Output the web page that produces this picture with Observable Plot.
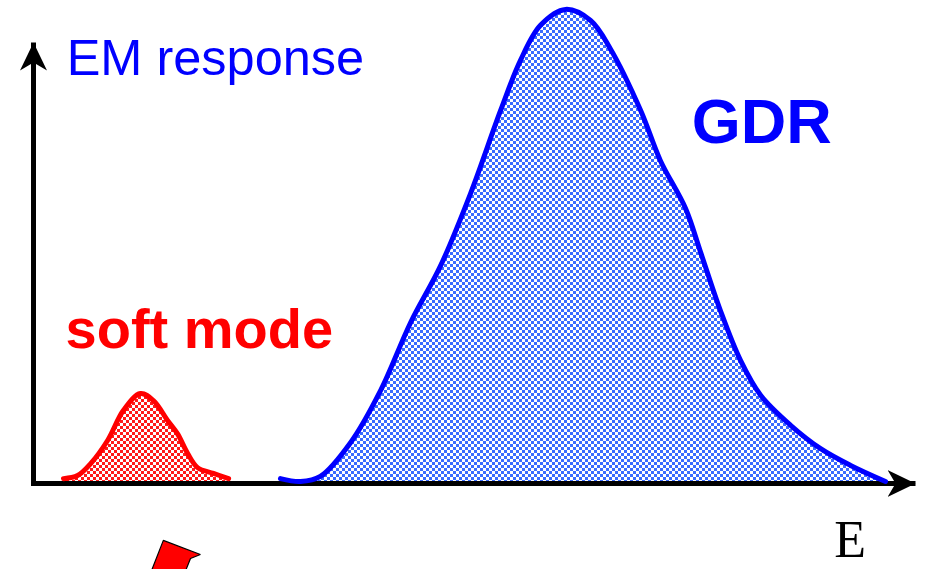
<!DOCTYPE html>
<html>
<head>
<meta charset="utf-8">
<script src="https://cdn.jsdelivr.net/npm/d3@7"></script>
<script src="https://cdn.jsdelivr.net/npm/@observablehq/plot@0.6"></script>
<style>
  html, body { margin: 0; padding: 0; background: #fff; overflow: hidden; }
</style>
</head>
<body>
<div id="chart"></div>
<script>
// Giant dipole resonance (GDR) curve: energy (arb. units) vs EM response
const gdrE = [7.00, 7.57, 8.13, 8.99, 9.84, 10.69, 11.54, 12.39, 13.24, 13.80, 14.37, 15.08, 15.79, 16.35, 17.21, 17.77, 18.48, 18.91, 19.47, 20.04, 20.61, 21.46, 22.31, 23.16, 24.15];
const gdrR = [1.1, 0.45, 1.6, 9.3, 21.1, 36.5, 49.4, 65.8, 84.6, 95.9, 103.9, 107.5, 105.0, 98.6, 84.6, 73.2, 62.4, 52.4, 39.2, 27.9, 20.0, 13.2, 7.9, 4.1, 0.45];
// Soft (pygmy) mode curve
const softE = [0.85, 1.25, 1.62, 2.10, 2.55, 3.03, 3.40, 3.80, 4.08, 4.37, 4.65, 5.10, 5.53];
const softR = [1.1, 1.8, 4.5, 9.75, 16.6, 20.4, 18.8, 14.3, 11.3, 6.8, 3.6, 2.3, 1.1];
// axes extent
const axisX = [-0.07, 25];
const axisY = [-0.57, 100];
// red pointer (partially off-canvas) outline
const pointerE = [3.68, 4.73, 4.45, 4.25, 3.26, 3.68];
const pointerR = [-12.9, -16.1, -17.0, -21.0, -21.5, -12.9];
// labels
const labels = [
  {text: "EM response", x: 0.94, y: 92.7, color: "#0000ff", size: 50.5, weight: "normal", font: "'Liberation Sans', Arial, sans-serif"},
  {text: "GDR", x: 18.66, y: 77.1, color: "#0000ff", size: 63, weight: "bold", font: "'Liberation Sans', Arial, sans-serif"},
  {text: "soft mode", x: 0.91, y: 30.8, color: "#ff0000", size: 56, weight: "bold", font: "'Liberation Sans', Arial, sans-serif"},
  {text: "E", x: 22.70, y: -16.7, color: "#000000", size: 52, weight: "normal", font: "'Liberation Serif', 'Times New Roman', serif"}
];

const gdr = gdrE.map((e, i) => ({e, r: gdrR[i]}));
const soft = softE.map((e, i) => ({e, r: softR[i]}));
const pointer = pointerE.map((e, i) => ({e, r: pointerR[i]}));
const axes = [
  {x1: axisX[0], y1: 0, x2: axisX[1], y2: 0},
  {x1: 0, y1: axisY[0], x2: 0, y2: axisY[1]}
];

const chart = Plot.plot({
  width: 927,
  height: 569,
  marginLeft: 33,
  marginRight: 12,
  marginTop: 42,
  marginBottom: 86,
  style: {background: "#fff", overflow: "hidden"},
  x: {domain: [0, 25], axis: null},
  y: {domain: [0, 100], axis: null},
  marks: [
    Plot.areaY(soft, {x: "e", y: "r", fill: "url(#chkRed)", curve: "catmull-rom"}),
    Plot.areaY(gdr, {x: "e", y: "r", fill: "url(#chkBlue)", curve: "catmull-rom"}),
    Plot.link(axes, {x1: "x1", y1: "y1", x2: "x2", y2: "y2", stroke: "#000", strokeWidth: 5}),
    Plot.line(soft, {x: "e", y: "r", stroke: "#ff0000", strokeWidth: 5, curve: "catmull-rom", strokeLinecap: "round"}),
    Plot.line(gdr, {x: "e", y: "r", stroke: "#0000ff", strokeWidth: 5, curve: "catmull-rom", strokeLinecap: "round"}),
    Plot.line(pointer, {x: "e", y: "r", fill: "#ff0000", stroke: "#000", strokeWidth: 1.2, strokeLinejoin: "miter"}),
    ...labels.map(l => Plot.text([l], {x: "x", y: "y", text: "text", fill: l.color, fontSize: l.size, fontWeight: l.weight, fontFamily: l.font, textAnchor: "start", lineAnchor: "bottom"}))
  ]
});

const svg = d3.select(chart);
const defs = svg.insert("defs", ":first-child");
function checker(id, color) {
  const p = defs.append("pattern").attr("id", id).attr("width", 6).attr("height", 6).attr("patternUnits", "userSpaceOnUse");
  p.append("rect").attr("width", 6).attr("height", 6).attr("fill", "#fff");
  p.append("rect").attr("width", 3).attr("height", 3).attr("fill", color);
  p.append("rect").attr("x", 3).attr("y", 3).attr("width", 3).attr("height", 3).attr("fill", color);
}
checker("chkBlue", "#3a6bff");
checker("chkRed", "#ff1a1a");
const m = defs.append("marker").attr("id", "axisHead")
  .attr("viewBox", "-28 -14 28 28").attr("refX", 0).attr("refY", 0)
  .attr("markerWidth", 28).attr("markerHeight", 28)
  .attr("markerUnits", "userSpaceOnUse").attr("orient", "auto");
m.append("path").attr("d", "M0,0L-28,-13.5L-20,0L-28,13.5Z").attr("fill", "#000");
svg.selectAll('g[aria-label="link"] path').attr("marker-end", "url(#axisHead)");

document.getElementById("chart").appendChild(chart);
</script>
</body>
</html>
